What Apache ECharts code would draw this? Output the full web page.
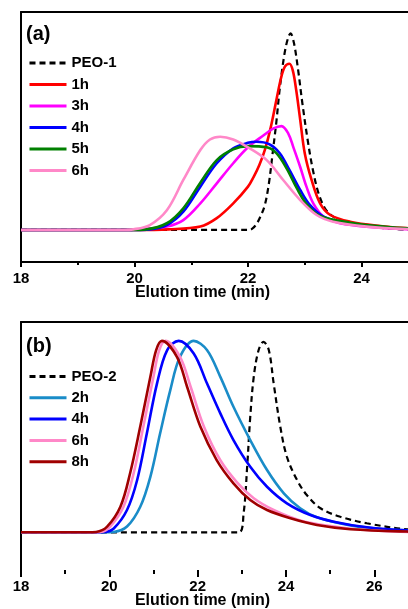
<!DOCTYPE html>
<html>
<head>
<meta charset="utf-8">
<script src="https://cdn.jsdelivr.net/npm/echarts@6/dist/echarts.min.js"></script>
<style>html,body{margin:0;padding:0;background:#fff}#c{width:408px;height:609px}</style>
</head>
<body>
<div id="c"></div>
<script>
// ---------- Panel (a) data: [elution time (min), normalized signal] ----------
const aNames = ['PEO-1', '1h', '3h', '4h', '5h', '6h'];
const aPEO1 = [[18,0],[22.0,0],[22.07,0.005],[22.15,0.03],[22.23,0.075],[22.30,0.13],[22.37,0.24],[22.43,0.38],[22.50,0.55],[22.56,0.72],[22.64,0.89],[22.70,0.97],[22.75,1.0],[22.81,0.95],[22.88,0.82],[22.96,0.64],[23.05,0.46],[23.14,0.31],[23.25,0.18],[23.38,0.10],[23.55,0.06],[23.85,0.033],[24.3,0.012],[24.8,0.002],[26,0]];
const a1h = [[18,0],[20.0,0],[20.6,0.003],[21.16,0.017],[21.45,0.06],[21.74,0.135],[22.0,0.22],[22.1,0.27],[22.2,0.33],[22.3,0.41],[22.4,0.52],[22.5,0.66],[22.58,0.77],[22.65,0.83],[22.73,0.845],[22.79,0.81],[22.85,0.71],[22.92,0.56],[23.0,0.39],[23.12,0.254],[23.27,0.135],[23.45,0.076],[23.80,0.042],[24.33,0.02],[24.8,0.009],[26,0.003]];
const a3h = [[18,0],[19.9,0],[20.16,0.005],[20.57,0.017],[20.86,0.05],[21.16,0.135],[21.45,0.237],[21.74,0.339],[22.0,0.42],[22.27,0.48],[22.45,0.516],[22.59,0.528],[22.71,0.49],[22.80,0.42],[22.92,0.32],[23.03,0.22],[23.15,0.135],[23.33,0.068],[23.62,0.034],[24.2,0.014],[24.8,0.004],[26,0]];
const a4h = [[18,0],[20.0,0],[20.27,0.003],[20.57,0.025],[20.86,0.093],[21.16,0.22],[21.45,0.339],[21.74,0.415],[22.0,0.443],[22.15,0.448],[22.38,0.435],[22.56,0.39],[22.73,0.305],[22.92,0.203],[23.09,0.127],[23.33,0.068],[23.80,0.03],[24.39,0.014],[24.8,0.007],[26,0.002]];
const a5h = [[18,0],[19.95,0],[20.2,0.003],[20.57,0.034],[20.86,0.11],[21.16,0.24],[21.45,0.355],[21.74,0.41],[22.0,0.426],[22.33,0.42],[22.50,0.39],[22.68,0.313],[22.86,0.212],[23.03,0.132],[23.27,0.071],[23.80,0.037],[24.39,0.017],[24.8,0.008],[26,0.002]];
const a6h = [[18,0],[19.8,0],[19.98,0.003],[20.27,0.025],[20.57,0.10],[20.86,0.254],[21.16,0.406],[21.33,0.46],[21.51,0.474],[21.74,0.46],[22.0,0.42],[22.33,0.355],[22.62,0.254],[22.92,0.152],[23.21,0.076],[23.50,0.042],[24.09,0.017],[24.8,0.005],[26,0]];

// ---------- Panel (b) data ----------
const bNames = ['PEO-2', '2h', '4h', '6h', '8h'];
const bPEO2 = [[18,0],[22.93,0],[23.04,0.099],[23.12,0.34],[23.19,0.60],[23.27,0.81],[23.38,0.948],[23.49,0.991],[23.61,0.948],[23.72,0.775],[23.87,0.55],[24.02,0.393],[24.25,0.272],[24.47,0.194],[24.78,0.125],[25.23,0.081],[25.83,0.047],[26.74,0.016],[28,0.005]];
const b2h = [[18,0],[19.9,0],[20.10,0.002],[20.40,0.03],[20.70,0.133],[20.93,0.29],[21.15,0.515],[21.38,0.74],[21.60,0.913],[21.91,0.996],[22.21,0.948],[22.51,0.81],[22.81,0.653],[23.19,0.48],[23.57,0.324],[23.95,0.203],[24.32,0.125],[24.70,0.078],[25.46,0.036],[26.21,0.016],[26.74,0.01],[28,0.003]];
const b4h = [[18,0],[19.7,0],[19.9,0.002],[20.10,0.02],[20.40,0.116],[20.63,0.272],[20.85,0.515],[21.08,0.775],[21.31,0.948],[21.57,0.996],[21.91,0.93],[22.21,0.775],[22.51,0.62],[22.81,0.48],[23.19,0.341],[23.57,0.237],[24.02,0.151],[24.55,0.09],[25.08,0.055],[25.83,0.026],[26.74,0.01],[28,0.003]];
const b6h = [[18,0],[19.6,0],[19.8,0.002],[20.02,0.03],[20.32,0.133],[20.55,0.307],[20.77,0.55],[21.0,0.81],[21.13,0.948],[21.27,0.996],[21.60,0.913],[21.84,0.757],[22.14,0.55],[22.51,0.376],[22.89,0.26],[23.27,0.177],[23.72,0.116],[24.32,0.062],[25.08,0.03],[25.83,0.012],[26.74,0.002],[28,0]];
const b8h = [[18,0],[19.5,0],[19.7,0.002],[19.95,0.03],[20.25,0.133],[20.47,0.307],[20.70,0.55],[20.93,0.81],[21.06,0.948],[21.19,0.996],[21.53,0.913],[21.76,0.757],[22.06,0.55],[22.43,0.376],[22.81,0.255],[23.19,0.168],[23.57,0.116],[24.10,0.073],[24.70,0.038],[25.46,0.016],[26.74,0.004],[28,0]];

const aData = [aPEO1, a1h, a3h, a4h, a5h, a6h];
const aColors = ['#000000', '#ff0000', '#ff00ff', '#0000ff', '#008000', '#ff88c8'];
const bData = [bPEO2, b2h, b4h, b6h, b8h];
const bColors = ['#000000', '#1a8cc8', '#0000ff', '#ff88c8', '#a00000'];

const xTitle = 'Elution time (min)';
const FONT = '"Liberation Sans", Arial, sans-serif';

function mkSeries(names, datas, colors, xi, yi) {
  return names.map((n, i) => ({
    name: n, type: 'line', xAxisIndex: xi, yAxisIndex: yi,
    data: datas[i], showSymbol: false, symbol: 'none',
    smooth: 0.35, animation: false,
    lineStyle: i === 0 ? {color: colors[i], width: 2.2, type: [6, 4]} : {color: colors[i], width: 2.6},
    itemStyle: {color: colors[i]}, z: 2 + i
  }));
}

function bottomAxis(gi, max, lineShow) {
  return {
    type: 'value', gridIndex: gi, min: 18, max: max, interval: 2, position: 'bottom',
    axisLine: {show: lineShow, onZero: false, lineStyle: {color: '#000', width: 2}},
    axisTick: {show: true, length: lineShow ? 5 : 7, lineStyle: {color: '#000', width: 2}},
    minorTick: {show: true, splitNumber: 2, length: lineShow ? 3 : 4, lineStyle: {color: '#000', width: 2}},
    splitLine: {show: false}, minorSplitLine: {show: false},
    axisLabel: {color: '#000', fontSize: 15, fontWeight: 'bold', fontFamily: FONT, margin: 9, showMaxLabel: false}
  };
}
function topAxis(gi, max) {
  return {
    type: 'value', gridIndex: gi, min: 18, max: max, position: 'top',
    axisLine: {show: true, onZero: false, lineStyle: {color: '#000', width: 2}},
    axisTick: {show: false}, axisLabel: {show: false}, splitLine: {show: false}
  };
}
function leftAxis(gi, min, max) {
  return {
    type: 'value', gridIndex: gi, min: min, max: max,
    axisLine: {show: true, onZero: false, lineStyle: {color: '#000', width: 2}},
    axisTick: {show: false}, axisLabel: {show: false}, splitLine: {show: false}
  };
}

const legendCommon = {
  orient: 'vertical', left: 28, padding: 0, itemWidth: 37, itemHeight: 14,
  itemStyle: {opacity: 0}, lineStyle: {width: 3},
  textStyle: {color: '#000', fontSize: 15, fontWeight: 'bold', fontFamily: FONT}, selectedMode: false
};

const chart = echarts.init(document.getElementById('c'), null, {renderer: 'canvas'});
chart.setOption({
  animation: false,
  backgroundColor: '#fff',
  grid: [
    {left: 21, top: 12, width: 8 * 56.75, height: 250, outerBoundsMode: 'none', containLabel: false},
    {left: 21, top: 322, width: 10 * 44.17, height: 248, outerBoundsMode: 'none', containLabel: false}
  ],
  xAxis: [bottomAxis(0, 26, true), topAxis(0, 26), bottomAxis(1, 28, false), topAxis(1, 28)],
  yAxis: [leftAxis(0, -0.163, 1.108), leftAxis(1, -0.196, 1.094)],
  legend: [
    Object.assign({}, legendCommon, {data: aNames, top: 55.5, itemGap: 6.5}),
    Object.assign({}, legendCommon, {data: bNames, top: 369, itemGap: 6.3})
  ],
  graphic: [
    {type: 'text', left: 26, top: 24, style: {text: '(a)', fontSize: 20, fontWeight: 'bold', fontFamily: FONT, fill: '#000'}},
    {type: 'text', left: 26, top: 336, style: {text: '(b)', fontSize: 20, fontWeight: 'bold', fontFamily: FONT, fill: '#000'}},
    {type: 'text', x: 202.5, y: 293, style: {text: xTitle, fontSize: 16, fontWeight: 'bold', fontFamily: FONT, fill: '#000', align: 'center', verticalAlign: 'middle'}},
    {type: 'text', x: 202.5, y: 601, style: {text: xTitle, fontSize: 16, fontWeight: 'bold', fontFamily: FONT, fill: '#000', align: 'center', verticalAlign: 'middle'}}
  ],
  series: mkSeries(aNames, aData, aColors, 0, 0).concat(mkSeries(bNames, bData, bColors, 2, 1))
});
</script>
</body>
</html>
